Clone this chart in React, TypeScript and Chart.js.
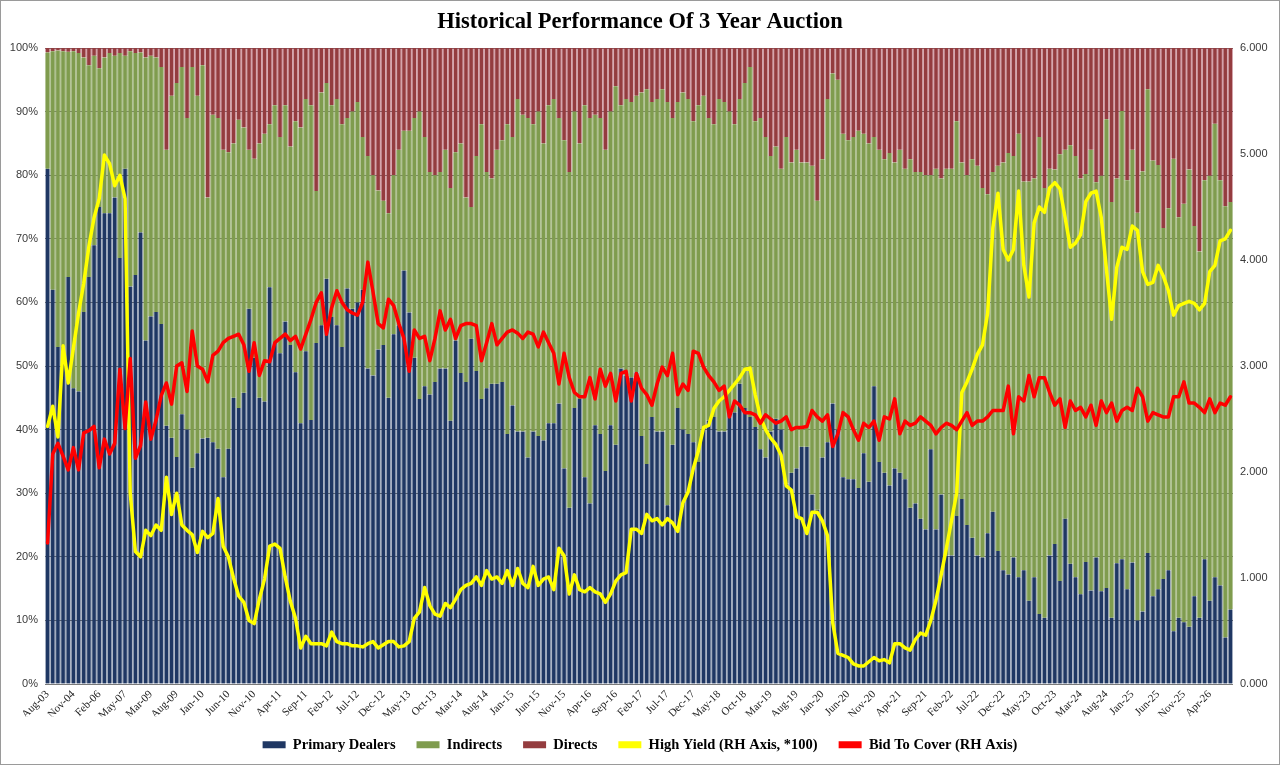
import React, { useEffect, useRef } from "react";
import { Chart, registerables } from "chart.js";

Chart.register(...registerables);

// auction dates: quarterly up to May-07, monthly again from Nov-08
const QUARTERLY_DATES = [
  "Aug-03", "Nov-03", "Feb-04", "May-04", "Aug-04", "Nov-04", "Feb-05", "May-05",
  "Aug-05", "Nov-05", "Feb-06", "May-06", "Aug-06", "Nov-06", "Feb-07", "May-07"
];
const MONTHS = ["Jan", "Feb", "Mar", "Apr", "May", "Jun", "Jul", "Aug", "Sep", "Oct", "Nov", "Dec"];

function monthlyDates(year: number, monthIndex: number, count: number) {
  const out: string[] = [];
  for (let i = 0; i < count; i++) {
    const m = (monthIndex + i) % 12;
    const y = year + Math.floor((monthIndex + i) / 12);
    out.push(MONTHS[m] + "-" + String(y % 100).padStart(2, "0"));
  }
  return out;
}

const CATEGORIES = [...QUARTERLY_DATES, ...monthlyDates(2008, 10, 214)];

// take-down shares, % of each auction
const PRIMARY_DEALERS = [
  81, 62, 53, 53, 64, 46.5, 46, 58.5, 64, 69,
  75, 74, 74, 76.5, 67, 81, 62.5, 64.3, 71, 54,
  57.8, 58.5, 56.6, 40.6, 38.7, 35.7, 42.4, 40, 34, 36.3,
  38.6, 38.7, 38, 37, 32.5, 37, 45, 43.4, 45.8, 59,
  51.3, 45, 44.4, 62.4, 53.6, 52, 57, 53.3, 49, 41,
  52.3, 41.5, 53.6, 56.4, 63.7, 57.7, 56.4, 53, 62.2, 59,
  60, 62, 49.6, 48.5, 52.6, 53.3, 45, 55, 56.4, 65,
  58.4, 51.3, 44.8, 46.8, 45.5, 47.5, 49.6, 49.6, 41.4, 54,
  48.9, 47.5, 54.3, 49.2, 44.8, 46.5, 47.2, 47.2, 47.5, 39.3,
  43.8, 39.7, 39.7, 35.6, 39.7, 39, 38.3, 41, 41, 44.1,
  33.9, 27.7, 43.4, 44.8, 32.5, 28.4, 40.7, 39.3, 33.5, 40.7,
  37.6, 49.6, 48.5, 48.2, 49, 39, 34.6, 42, 39.7, 39.7,
  28.1, 37.6, 43.4, 40, 39.3, 38, 34.9, 40.4, 41.4, 42,
  39.7, 39.7, 43.1, 42.7, 47.2, 43.4, 42, 40.4, 36.9, 35.6,
  39.7, 41.7, 40, 31.5, 33.2, 33.9, 37.3, 37.3, 29.8, 27.4,
  35.6, 38, 44.1, 40, 32.5, 32.2, 32.2, 30.8, 36.3, 31.8,
  46.8, 34.9, 33.2, 31.2, 33.9, 33.2, 32.2, 27.7, 28.4, 26,
  24.3, 36.9, 24.3, 29.8, 20.2, 20.2, 26.4, 29.1, 25, 23,
  20.2, 19.9, 23.7, 27.1, 20.9, 17.9, 17.2, 19.9, 16.8, 17.9,
  13.1, 16.8, 11, 10.4, 20.2, 22, 16.2, 26, 18.9, 16.8,
  14.1, 19.2, 14.7, 19.9, 14.6, 15.1, 10.4, 19, 19.6, 14.9,
  19.1, 10, 11.4, 20.6, 13.8, 14.9, 16.5, 17.9, 8.3, 10.4,
  9.7, 9, 13.8, 10.4, 19.6, 13.1, 16.8, 15.5, 7.3, 11.7
];

const INDIRECTS = [
  18.3, 37.5, 46.6, 46.5, 35.4, 53, 53.2, 40, 33.3, 29.8,
  21.8, 24.5, 25.2, 22.3, 32.2, 17.8, 37, 34.9, 28.3, 44.5,
  41, 40, 40.4, 43.4, 53.8, 58.8, 54.6, 49, 63, 56.2,
  58.7, 37.8, 51.5, 52, 51.5, 46.6, 40, 45.3, 41.7, 25,
  31.3, 40, 42.1, 25.6, 37.4, 34, 34, 31.2, 39.5, 46.5,
  39.7, 49.5, 23.9, 36.6, 30.8, 33.3, 35.6, 35, 26.8, 31,
  31.5, 24, 33.4, 31.5, 25, 22.7, 29, 25, 27.6, 22,
  28.6, 37.7, 45.2, 39.2, 35, 32.5, 30.9, 34.4, 36.6, 29.6,
  36.1, 29, 20.7, 33.8, 43.2, 34, 32.3, 36.8, 38, 48.7,
  42.2, 52.3, 49.8, 53.4, 48.3, 51, 46.7, 50, 51, 44.9,
  51.6, 52.8, 46.6, 40.2, 58.5, 60.6, 48.8, 49.7, 50.5, 49.3,
  56.4, 41.4, 43.5, 43.3, 43.5, 54, 58.9, 49.5, 52.3, 53.8,
  63.4, 51.4, 48.1, 53, 52.7, 50.5, 56.1, 52.1, 47.6, 46,
  52.3, 51.8, 46.9, 45.3, 44.8, 51.1, 55, 48.1, 52.1, 50.4,
  43.3, 42.8, 41, 54.5, 48.8, 50.1, 44.7, 44.7, 51.7, 48.6,
  46.9, 54, 51.9, 55, 54, 53.3, 53.8, 56.2, 50.2, 53.2,
  39.2, 49.1, 49.3, 52.3, 48.1, 50.8, 48.8, 54.8, 52.1, 54.5,
  55.7, 43.1, 56.7, 49.7, 60.8, 60.8, 62.1, 52.9, 55, 59.5,
  61.3, 58.1, 53.3, 53.4, 60.6, 64.1, 66.3, 63.1, 69.7, 61.1,
  65.9, 62.7, 75, 67.6, 60.8, 58.9, 67.1, 58, 65.8, 66.2,
  65.4, 61, 69.3, 59, 65.3, 73.7, 65.4, 60.5, 70.5, 64.3,
  64.9, 64.1, 69.2, 72.9, 68.5, 66.7, 55.2, 56.9, 74.3, 63,
  65.8, 71.9, 58.2, 57.6, 59.6, 66.8, 71.3, 63.7, 67.8, 64.1
];

const DIRECTS = [
  0.7, 0.5, 0.4, 0.5, 0.6, 0.5, 0.8, 1.5, 2.7, 1.2,
  3.2, 1.5, 0.8, 1.2, 0.8, 1.2, 0.5, 0.8, 0.7, 1.5,
  1.2, 1.5, 3, 16, 7.5, 5.5, 3, 11, 3, 7.5,
  2.7, 23.5, 10.5, 11, 16, 16.4, 15, 11.3, 12.5, 16,
  17.4, 15, 13.5, 12, 9, 14, 9, 15.5, 11.5, 12.5,
  8, 9, 22.5, 7, 5.5, 9, 8, 12, 11, 10,
  8.5, 14, 17, 20, 22.4, 24, 26, 20, 16, 13,
  13, 11, 10, 14, 19.5, 20, 19.5, 16, 22, 16.4,
  15, 23.5, 25, 17, 12, 19.5, 20.5, 16, 14.5, 12,
  14, 8, 10.5, 11, 12, 10, 15, 9, 8, 11,
  14.5, 19.5, 10, 15, 9, 11, 10.5, 11, 16, 10,
  6, 9, 8, 8.5, 7.5, 7, 6.5, 8.5, 8, 6.5,
  8.5, 11, 8.5, 7, 8, 11.5, 9, 7.5, 11, 12,
  8, 8.5, 10, 12, 8, 5.5, 3, 11.5, 11, 14,
  17, 15.5, 19, 14, 18, 16, 18, 18, 18.5, 24,
  17.5, 8, 4, 5, 13.5, 14.5, 14, 13, 13.5, 15,
  14, 16, 17.5, 16.5, 18, 16, 19, 17.5, 19.5, 19.5,
  20, 20, 19, 20.5, 19, 19, 11.5, 18, 20, 17.5,
  18.5, 22, 23, 19.5, 18.5, 18, 16.5, 17, 13.5, 21,
  21, 20.5, 14, 22, 19, 19.1, 16.7, 16, 15.3, 17,
  20.5, 19.8, 16, 21.1, 20.1, 11.2, 24.2, 20.5, 9.9, 20.8,
  16, 25.9, 19.4, 6.5, 17.7, 18.4, 28.3, 25.2, 17.4, 26.6,
  24.5, 19.1, 28, 32, 20.8, 20.1, 11.9, 20.8, 24.9, 24.2
];

// right hand axis
const HIGH_YIELD = [
  2.43, 2.62, 2.33, 3.19, 2.84, 3.17, 3.5, 3.78, 4.13, 4.4,
  4.58, 4.99, 4.91, 4.7, 4.8, 4.58, 1.8, 1.25, 1.2, 1.45,
  1.4, 1.5, 1.45, 1.95, 1.6, 1.8, 1.5, 1.45, 1.41, 1.24,
  1.44, 1.38, 1.42, 1.75, 1.3, 1.2, 1.0, 0.83, 0.77, 0.6,
  0.57, 0.8, 0.99, 1.3, 1.32, 1.28, 1.01, 0.78, 0.62, 0.34,
  0.45, 0.38, 0.38, 0.38, 0.36, 0.49, 0.4, 0.38, 0.38, 0.36,
  0.36, 0.35, 0.38, 0.4, 0.34, 0.37, 0.4, 0.4, 0.35, 0.36,
  0.4, 0.62, 0.68, 0.91, 0.74, 0.66, 0.64, 0.76, 0.72, 0.8,
  0.89, 0.93, 0.95, 1.01, 0.93, 1.07, 0.99, 1.01, 0.95, 1.07,
  0.93, 1.09, 0.95, 0.91, 1.11, 0.93, 0.99, 1.01, 0.89, 1.28,
  1.21, 0.85, 1.03, 0.89, 0.87, 0.91, 0.87, 0.85, 0.77, 0.85,
  0.97, 1.03, 1.05, 1.46, 1.46, 1.42, 1.6, 1.54, 1.56, 1.5,
  1.56, 1.52, 1.44, 1.71, 1.81, 2.03, 2.2, 2.42, 2.44, 2.6,
  2.67, 2.71, 2.77, 2.83, 2.89, 2.97, 2.98, 2.73, 2.52, 2.4,
  2.32, 2.26, 2.16, 1.87, 1.83, 1.58, 1.56, 1.42, 1.62, 1.62,
  1.54, 1.4, 0.58, 0.29, 0.27, 0.25, 0.19, 0.17, 0.17, 0.21,
  0.25, 0.22, 0.23, 0.2, 0.38, 0.38, 0.34, 0.32, 0.42, 0.48,
  0.46, 0.6, 0.79, 1.03, 1.28, 1.54, 1.8, 2.75, 2.85, 2.97,
  3.11, 3.2, 3.5, 4.3, 4.63, 4.1, 4.0, 4.1, 4.65, 3.95,
  3.65, 4.35, 4.5, 4.45, 4.68, 4.73, 4.67, 4.4, 4.12, 4.16,
  4.24, 4.55, 4.63, 4.65, 4.4, 3.91, 3.44, 3.93, 4.12, 4.1,
  4.32, 4.28, 3.89, 3.77, 3.79, 3.95, 3.85, 3.71, 3.48, 3.57,
  3.59, 3.61, 3.59, 3.53, 3.59, 3.89, 3.95, 4.18, 4.2, 4.28
];

const BID_TO_COVER = [
  1.33, 2.17, 2.27, 2.15, 2.02, 2.23, 2.02, 2.37, 2.39, 2.43,
  2.04, 2.31, 2.17, 2.27, 2.97, 2.41, 3.07, 2.13, 2.25, 2.66,
  2.31, 2.49, 2.72, 2.84, 2.64, 3.0, 3.03, 2.76, 3.33, 3.0,
  2.97, 2.85, 3.1, 3.14, 3.22, 3.26, 3.28, 3.3, 3.2, 2.95,
  3.22, 2.91, 3.05, 3.04, 3.22, 3.26, 3.3, 3.24, 3.28, 3.16,
  3.3, 3.44, 3.6, 3.69, 3.3, 3.55, 3.71, 3.6, 3.53, 3.5,
  3.48, 3.6, 3.98, 3.7, 3.4, 3.36, 3.63, 3.57, 3.4, 3.26,
  2.95, 3.34, 3.26, 3.28, 3.05, 3.26, 3.52, 3.34, 3.44, 3.26,
  3.38, 3.4, 3.4, 3.38, 3.05, 3.22, 3.4, 3.2, 3.26, 3.32,
  3.34, 3.31, 3.26, 3.32, 3.3, 3.18, 3.32, 3.22, 3.12, 2.83,
  3.12, 2.89, 2.75, 2.71, 2.71, 2.89, 2.69, 2.97, 2.81, 2.93,
  2.67, 2.93, 2.95, 2.67, 2.93, 2.79, 2.73, 2.63, 2.83, 2.99,
  2.91, 3.12, 2.73, 2.83, 2.77, 3.14, 3.12, 2.99, 2.91, 2.85,
  2.77, 2.81, 2.52, 2.67, 2.63, 2.56, 2.56, 2.54, 2.46, 2.54,
  2.5, 2.46, 2.48, 2.52, 2.4, 2.42, 2.42, 2.43, 2.58, 2.52,
  2.48, 2.54, 2.24, 2.36, 2.56, 2.52, 2.4, 2.3, 2.46, 2.42,
  2.48, 2.3, 2.52, 2.5, 2.69, 2.36, 2.48, 2.44, 2.46, 2.52,
  2.48, 2.44, 2.36, 2.42, 2.46, 2.44, 2.4, 2.48, 2.56, 2.44,
  2.48, 2.48, 2.52, 2.58, 2.58, 2.58, 2.81, 2.36, 2.71, 2.67,
  2.91, 2.71, 2.89, 2.89, 2.75, 2.63, 2.69, 2.42, 2.67, 2.58,
  2.61, 2.52, 2.63, 2.44, 2.67, 2.56, 2.65, 2.48, 2.58, 2.61,
  2.58, 2.79, 2.71, 2.48, 2.56, 2.54, 2.52, 2.52, 2.71, 2.71,
  2.85, 2.65, 2.65, 2.61, 2.56, 2.69, 2.56, 2.65, 2.63, 2.71
];

const W = 1278;
const H = 763;
const PLOT_BOTTOM = 683;

const serif = "'Liberation Serif', 'Times New Roman', serif";
const sans = "'Liberation Sans', Arial, sans-serif";

function barSet(label: string, data: number[], fill: string, edge: string) {
  return {
    type: "bar" as const,
    label,
    data,
    yAxisID: "y",
    stack: "auction",
    backgroundColor: fill,
    borderColor: edge,
    borderWidth: { left: 1.2, right: 1.2, top: 0, bottom: 0 },
    borderSkipped: false as const,
    categoryPercentage: 1,
    barPercentage: 1,
    order: 3
  };
}

function lineSet(label: string, data: number[], color: string, order: number) {
  return {
    type: "line" as const,
    label,
    data,
    yAxisID: "y1",
    borderColor: color,
    backgroundColor: color,
    borderWidth: 3.5,
    pointRadius: 0,
    tension: 0,
    fill: false,
    borderJoinStyle: "round" as const,
    borderCapStyle: "round" as const,
    order
  };
}

export default function App() {
  const canvasRef = useRef<HTMLCanvasElement | null>(null);

  useEffect(() => {
    document.body.style.margin = "0";
    if (!canvasRef.current) return;

    const chart = new Chart(canvasRef.current, {
      type: "bar",
      data: {
        labels: CATEGORIES,
        datasets: [
          barSet("Primary Dealers", PRIMARY_DEALERS, "#1f3763", "rgba(31,55,99,0.32)"),
          barSet("Indirects", INDIRECTS, "#7f9c4e", "rgba(127,156,78,0.52)"),
          barSet("Directs", DIRECTS, "#943c3f", "rgba(160,50,70,0.36)"),
          lineSet("High Yield (RH Axis, *100)", HIGH_YIELD, "#ffff00", 1),
          lineSet("Bid To Cover (RH Axis)", BID_TO_COVER, "#ff0000", 0)
        ] as any
      },
      options: {
        responsive: false,
        maintainAspectRatio: false,
        animation: false,
        devicePixelRatio: 1,
        layout: { padding: { left: 0, right: 0, top: 0, bottom: 2 } },
        plugins: {
          tooltip: { enabled: false },
          title: {
            display: true,
            text: "Historical Performance Of 3 Year Auction",
            color: "#000",
            font: { family: serif, size: 22.5, weight: "bold" },
            padding: { top: 7.5, bottom: 12.5 }
          },
          legend: {
            position: "bottom",
            labels: {
              color: "#000",
              font: { family: serif, size: 14.5, weight: "bold" },
              boxWidth: 23,
              boxHeight: 7,
              padding: 21,
              sort: (a: any, b: any) => a.datasetIndex - b.datasetIndex,
              generateLabels: (c: Chart) =>
                Chart.defaults.plugins.legend.labels
                  .generateLabels(c)
                  .map((l: any) => ({ ...l, lineWidth: 0, strokeStyle: "rgba(0,0,0,0)" }))
            }
          }
        },
        scales: {
          x: {
            stacked: true,
            offset: true,
            grid: { display: false, drawTicks: false },
            border: { display: false },
            ticks: {
              autoSkip: false,
              maxRotation: 45,
              minRotation: 45,
              padding: 4,
              color: "#222",
              font: { family: serif, size: 11 },
              callback: (_v: any, i: number) => (i % 5 === 0 ? CATEGORIES[i] : "")
            },
            afterFit: (scale: any) => {
              const c = scale.chart;
              const legendH = c.legend ? c.legend.height : 0;
              scale.height = c.height - PLOT_BOTTOM - legendH - 2;
            }
          },
          y: {
            stacked: true,
            min: 0,
            max: 100,
            position: "left",
            grid: { color: "#7a7a7a", lineWidth: 1, drawTicks: false },
            border: { display: false },
            ticks: {
              stepSize: 10,
              padding: 7,
              color: "#3a3a3a",
              font: { family: sans, size: 11 },
              callback: (v: any) => v + "%"
            },
            afterFit: (scale: any) => {
              scale.width = 44;
            }
          },
          y1: {
            min: 0,
            max: 6,
            position: "right",
            grid: { display: false, drawTicks: false },
            border: { display: false },
            ticks: {
              stepSize: 1,
              padding: 7,
              color: "#3a3a3a",
              font: { family: sans, size: 11 },
              callback: (v: any) => Number(v).toFixed(3)
            },
            afterFit: (scale: any) => {
              scale.width = 46;
            }
          }
        }
      }
    });

    return () => chart.destroy();
  }, []);

  return (
    <div
      style={{
        width: 1280,
        height: 765,
        boxSizing: "border-box",
        border: "1px solid #9a9a9a",
        background: "#fff",
        position: "relative"
      }}
    >
      <canvas ref={canvasRef} width={W} height={H} style={{ display: "block" }} />
    </div>
  );
}
